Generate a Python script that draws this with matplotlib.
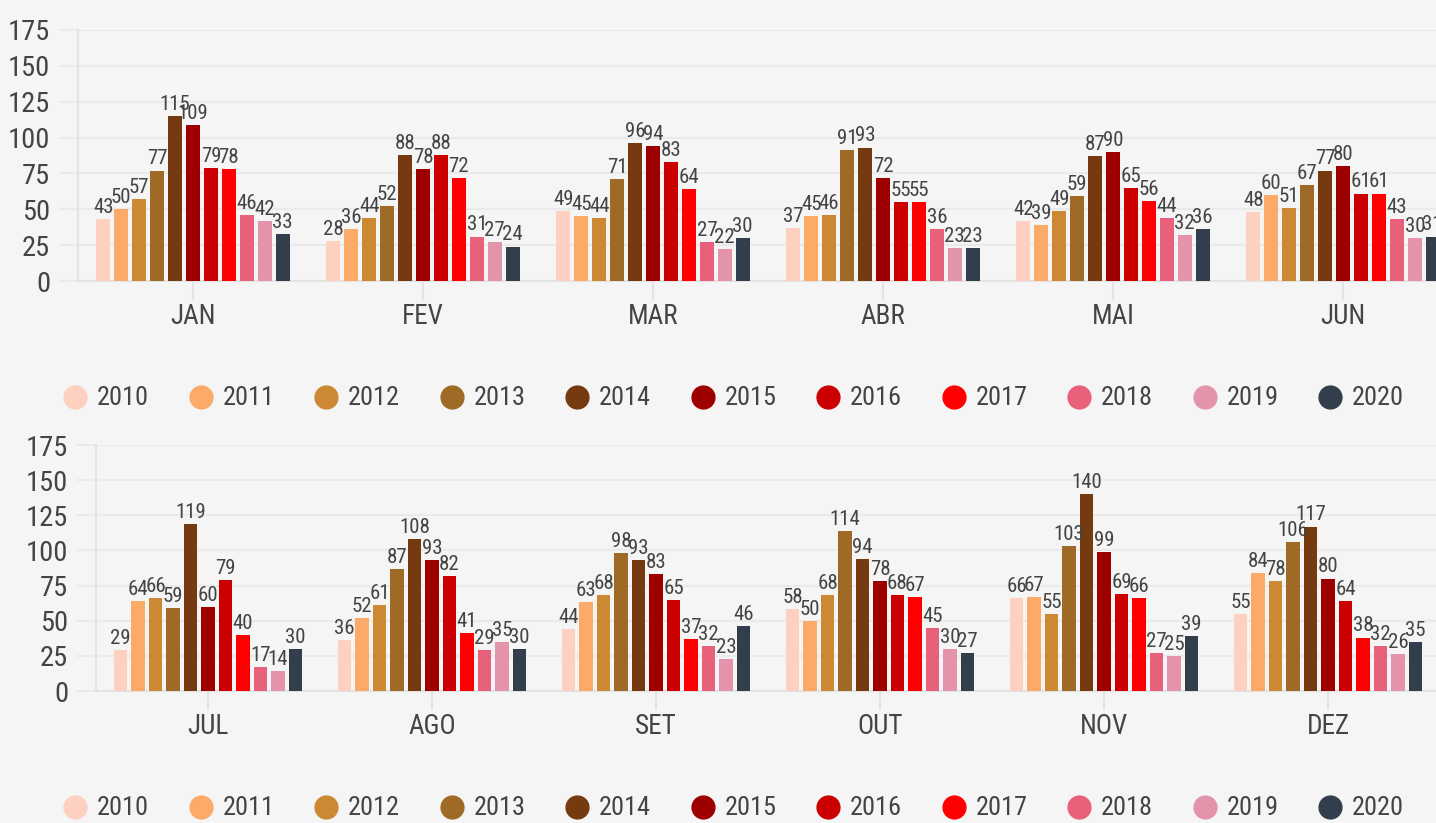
import numpy as np
import matplotlib
matplotlib.use("Agg")
import matplotlib.pyplot as plt

plt.rcParams['font.family'] = ['Roboto Condensed', 'Liberation Sans Narrow', 'Roboto', 'DejaVu Sans']

years = ['2010', '2011', '2012', '2013', '2014', '2015', '2016', '2017', '2018', '2019', '2020']
colors = ['#FDD0C0', '#FBAA68', '#CC8833', '#9E6A25', '#763A10', '#9E0000',
          '#CC0000', '#FF0000', '#E8607A', '#E394AB', '#323E4B']

months_top = ['JAN', 'FEV', 'MAR', 'ABR', 'MAI', 'JUN']
months_bot = ['JUL', 'AGO', 'SET', 'OUT', 'NOV', 'DEZ']

# one row per month, one column per year (2010..2020)
vals_top = [
    [43, 50, 57, 77, 115, 109, 79, 78, 46, 42, 33],
    [28, 36, 44, 52, 88, 78, 88, 72, 31, 27, 24],
    [49, 45, 44, 71, 96, 94, 83, 64, 27, 22, 30],
    [37, 45, 46, 91, 93, 72, 55, 55, 36, 23, 23],
    [42, 39, 49, 59, 87, 90, 65, 56, 44, 32, 36],
    [48, 60, 51, 67, 77, 80, 61, 61, 43, 30, 31],
]
vals_bot = [
    [29, 64, 66, 59, 119, 60, 79, 40, 17, 14, 30],
    [36, 52, 61, 87, 108, 93, 82, 41, 29, 35, 30],
    [44, 63, 68, 98, 93, 83, 65, 37, 32, 23, 46],
    [58, 50, 68, 114, 94, 78, 68, 67, 45, 30, 27],
    [66, 67, 55, 103, 140, 99, 69, 66, 27, 25, 39],
    [55, 84, 78, 106, 117, 80, 64, 38, 32, 26, 35],
]

W, H = 1436, 823
BG = '#F5F5F5'
GRID = '#EAEAEA'
TXT = '#444444'

fig = plt.figure(figsize=(W / 100, H / 100), dpi=100, facecolor=BG)


def px_axes(left, top, width, height):
    return fig.add_axes([left / W, 1 - (top + height) / H, width / W, height / H])


def panel(ax, months, vals):
    ax.set_facecolor(BG)
    pitch = 0.078
    bw = 0.061
    n = len(years)
    x = np.arange(len(months))
    data = np.array(vals)
    for j in range(n):
        off = (j - (n - 1) / 2) * pitch
        ax.bar(x + off, data[:, j], width=bw, color=colors[j], zorder=3)
        for i in range(len(months)):
            ax.text(x[i] + off, data[i, j] + 1.5, str(data[i, j]), ha='center', va='bottom',
                    fontsize=15, color=TXT, zorder=4)
    ax.set_xlim(-0.5, len(months) - 0.5)
    ax.set_ylim(0, 175)
    ax.set_yticks(np.arange(0, 176, 25))
    ax.set_xticks(x)
    ax.set_xticklabels(months)
    ax.grid(axis='y', color=GRID, lw=1.5, zorder=0)
    for s in ['top', 'right']:
        ax.spines[s].set_visible(False)
    for s in ['left', 'bottom']:
        ax.spines[s].set_color('#E3E3E3')
        ax.spines[s].set_linewidth(1.5)
    ax.tick_params(axis='y', length=14, width=1.5, color=GRID, labelsize=20.5, labelcolor=TXT, pad=6)
    ax.tick_params(axis='x', length=14, width=1.5, color='#E3E3E3', labelsize=19.5, labelcolor=TXT, pad=2)


ax1 = px_axes(78, 30, 1380, 251)
panel(ax1, months_top, vals_top)
ax2 = px_axes(96, 445, 1344, 246)
panel(ax2, months_bot, vals_bot)

# legends drawn in pixel space
lg = fig.add_axes([0, 0, 1, 1])
lg.set_xlim(0, W)
lg.set_ylim(H, 0)
lg.axis('off')
lg.patch.set_alpha(0)
for ly in [397, 807]:
    for k, yr in enumerate(years):
        cx = 75 + k * 125.5
        lg.scatter([cx], [ly], s=270, color=colors[k], zorder=3)
        lg.text(cx + 22, ly + 1, yr, ha='left', va='center', fontsize=19, color=TXT)

fig.savefig('out.png', dpi=100, facecolor=BG)
